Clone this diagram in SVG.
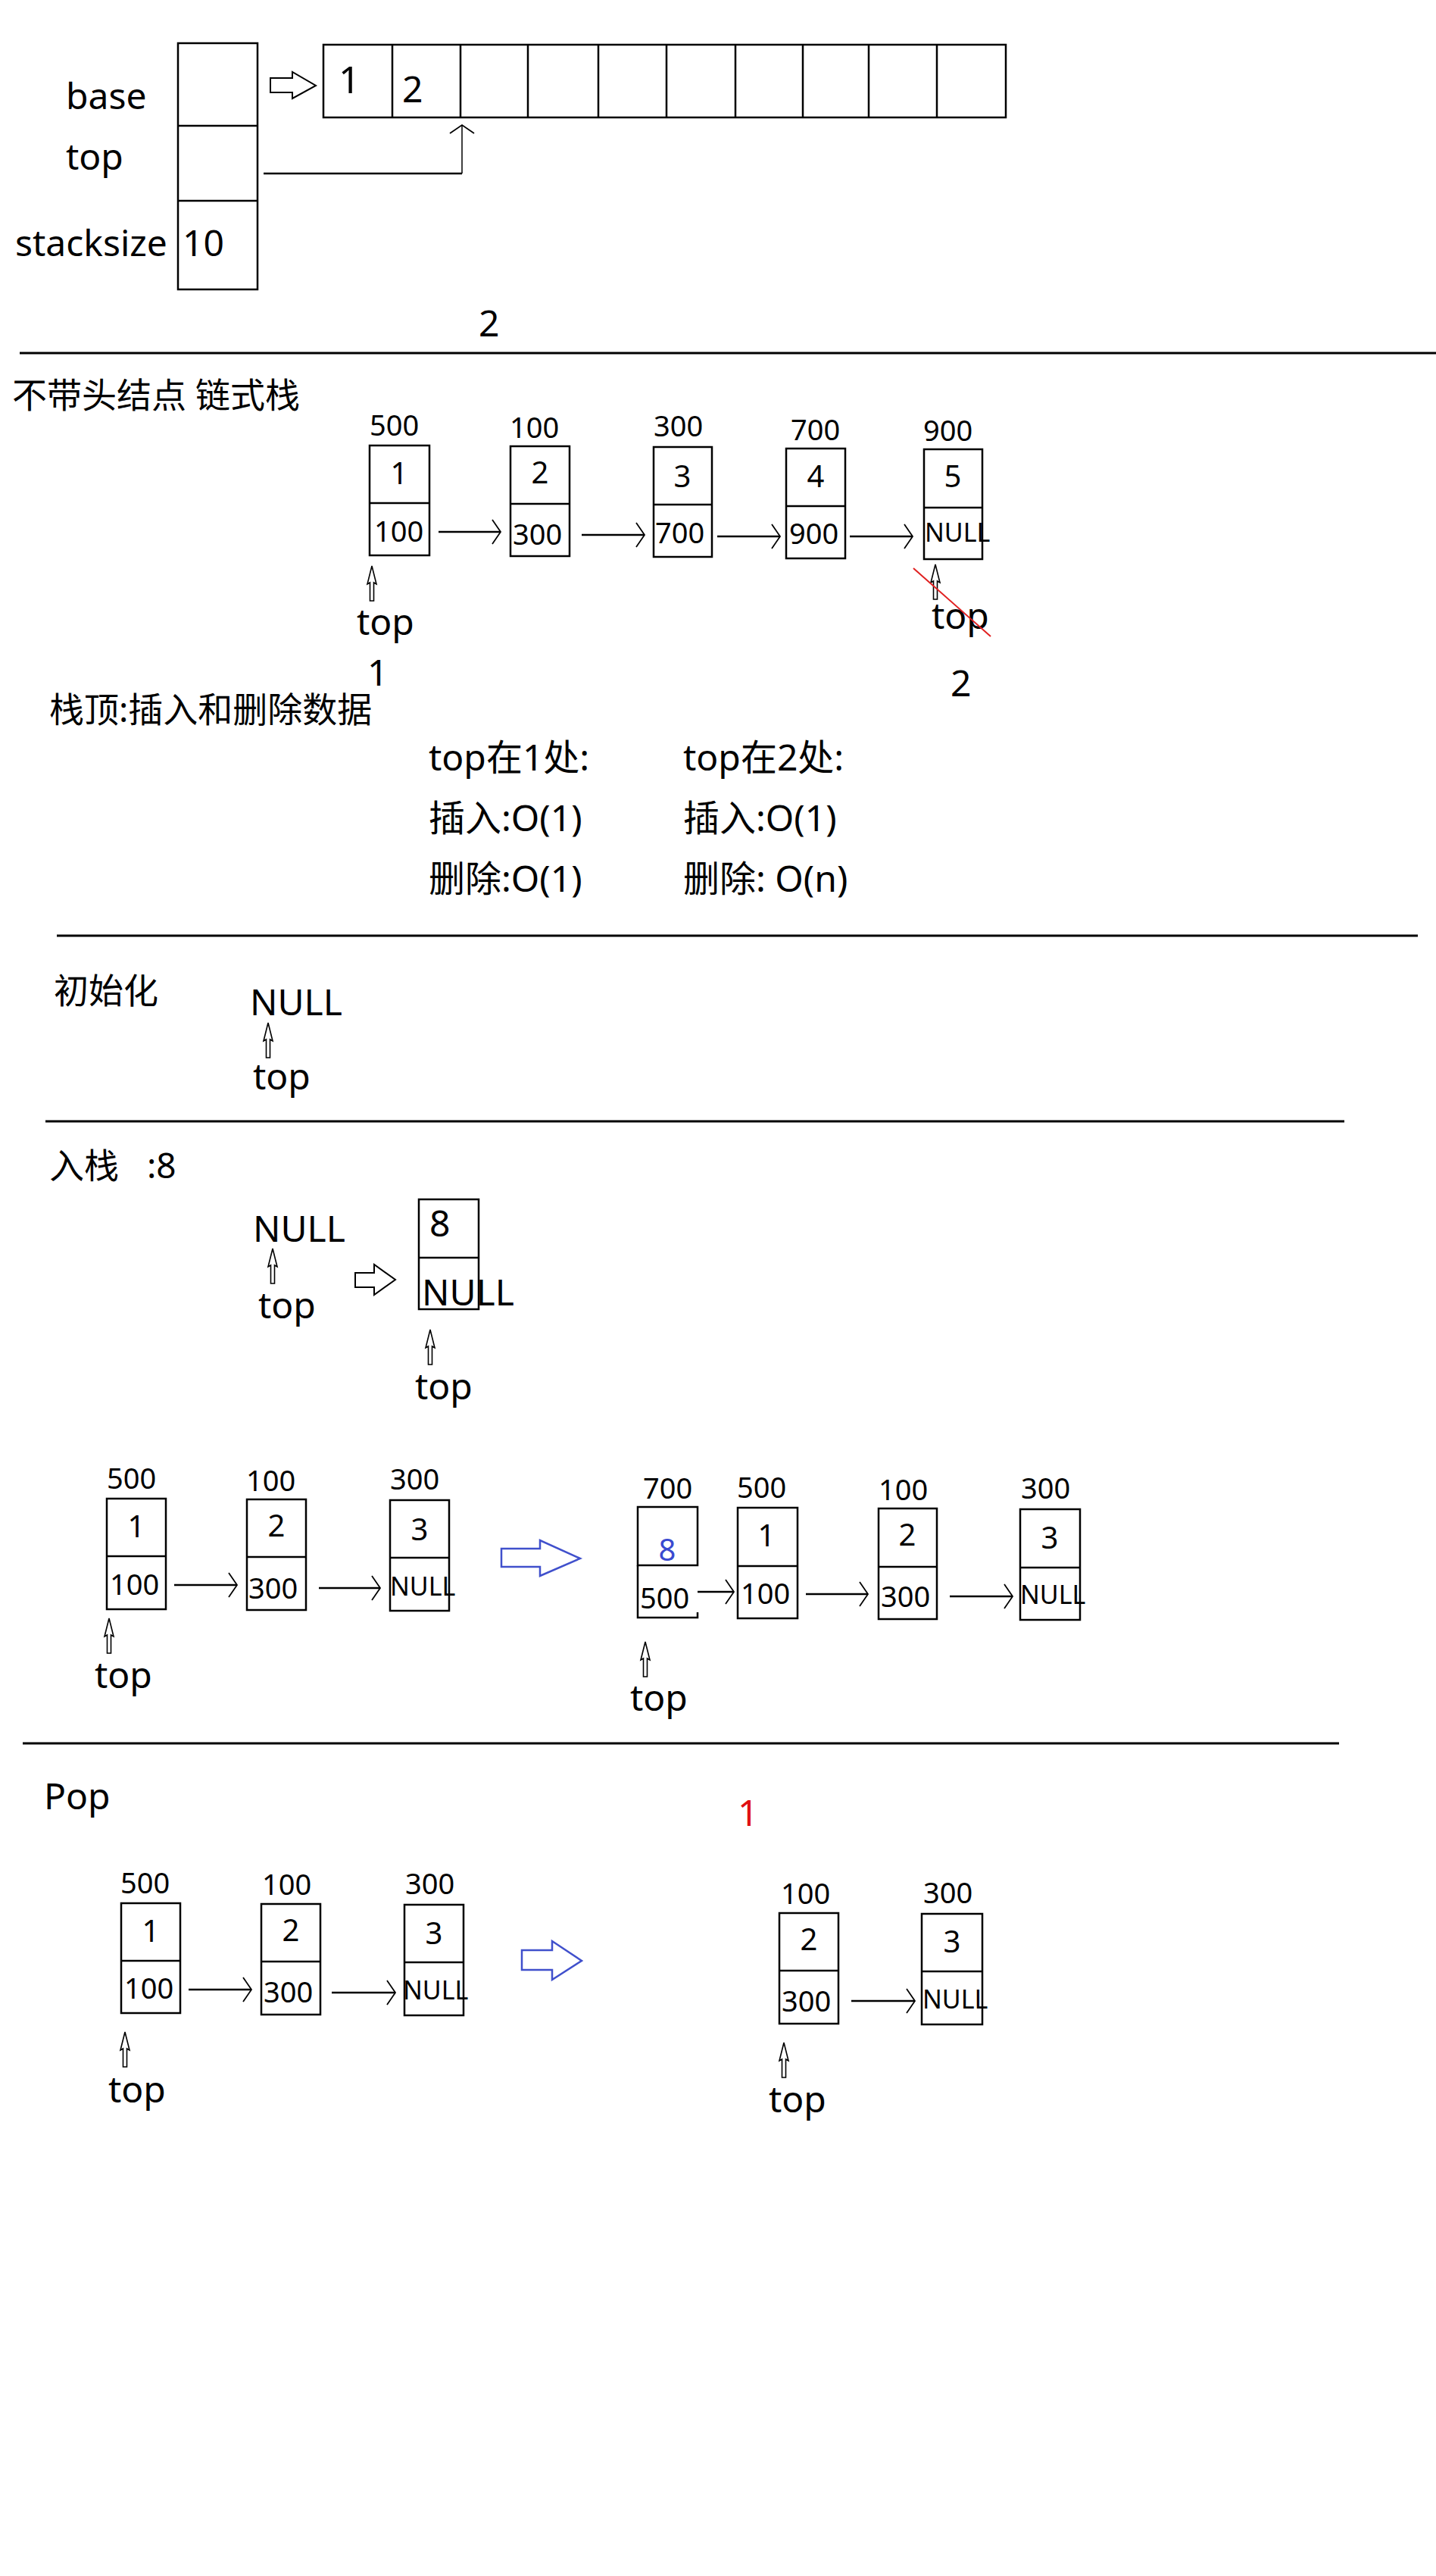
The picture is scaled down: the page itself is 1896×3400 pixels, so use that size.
<svg xmlns="http://www.w3.org/2000/svg" xmlns:xlink="http://www.w3.org/1999/xlink" width="1896" height="3400" viewBox="0 0 1896 3400">
<style>
text{font-family:"Noto Sans","Noto Sans CJK SC",sans-serif;fill:#000}
.l{font-size:48px}
.cj{font-size:46px}
.a{font-size:38px}
.v{font-size:40px;text-anchor:middle}
.n{font-size:34px}
.box{fill:none;stroke:#000;stroke-width:2.5}
.ln{stroke:#000;stroke-width:2.5;fill:none}
.sep{stroke:#000;stroke-width:3}
.con{stroke:#000;stroke-width:2.5;fill:none;marker-end:url(#ah)}
.hol{fill:#fff;stroke:#000;stroke-width:2}
.blu{fill:#fff;stroke:#4050cc;stroke-width:2.5}
</style>
<defs>
<marker id="ah" markerUnits="userSpaceOnUse" markerWidth="14" markerHeight="34" refX="12" refY="17" orient="auto" viewBox="0 0 14 34">
<path d="M1,1 L12,17 L1,33" fill="none" stroke="#000" stroke-width="1.8"/>
</marker>
<path id="up" d="M0,0 L6,24 L2.5,22 L2.5,46 L-2.5,46 L-2.5,22 L-6,24 Z" fill="#fff" stroke="#000" stroke-width="1.6"/>
</defs>
<rect width="1896" height="3400" fill="#fff"/>

<!-- Section 1: sequential stack -->
<g id="struct">
<rect class="box" x="235" y="57" width="105" height="325"/>
<line class="ln" x1="235" y1="166" x2="340" y2="166"/>
<line class="ln" x1="235" y1="265" x2="340" y2="265"/>
<text class="l" x="87" y="144">base</text>
<text class="l" x="87" y="224">top</text>
<text class="l" x="20" y="338">stacksize</text>
<text class="l" x="241" y="338">10</text>
</g>
<g id="array">
<rect class="box" x="427" y="59" width="901" height="96"/>
<path class="ln" stroke-width="2" d="M518,59V155M608,59V155M697,59V155M790,59V155M880,59V155M971,59V155M1060,59V155M1147,59V155M1237,59V155"/>
<text x="447" y="123" font-size="50">1</text>
<text class="l" x="531" y="135">2</text>
</g>
<text id="note2" class="l" x="632" y="444">2</text>

<!-- Section 2 nodes -->
<text id="title2" class="cj" x="16" y="538">不带头结点 链式栈</text>
<g id="n2a"><rect class="box" x="488" y="588" width="79" height="145"/><line class="ln" x1="488" y1="664" x2="567" y2="664"/>
<text class="a" x="488" y="575">500</text><text class="v" x="527" y="639">1</text><text class="a" x="494" y="715">100</text></g>
<g id="n2b"><rect class="box" x="674" y="589" width="78" height="145"/><line class="ln" x1="674" y1="665" x2="752" y2="665"/>
<text class="a" x="673" y="578">100</text><text class="v" x="713" y="638">2</text><text class="a" x="677" y="719">300</text></g>
<g id="n2c"><rect class="box" x="863" y="590" width="77" height="145"/><line class="ln" x1="863" y1="666" x2="940" y2="666"/>
<text class="a" x="863" y="576">300</text><text class="v" x="901" y="643">3</text><text class="a" x="865" y="717">700</text></g>
<g id="n2d"><rect class="box" x="1038" y="592" width="78" height="145"/><line class="ln" x1="1038" y1="668" x2="1116" y2="668"/>
<text class="a" x="1044" y="581">700</text><text class="v" x="1077" y="643">4</text><text class="a" x="1042" y="718">900</text></g>
<g id="n2e"><rect class="box" x="1220" y="593" width="77" height="145"/><line class="ln" x1="1220" y1="670" x2="1297" y2="670"/>
<text class="a" x="1219" y="582">900</text><text class="v" x="1258" y="643">5</text><text class="n" x="1221" y="715">NULL</text></g>
<g id="tops2">
<use xlink:href="#up" x="491" y="747"/>
<text class="l" x="471" y="838">top</text>
<use xlink:href="#up" x="1235" y="745"/>
<text class="l" x="1230" y="830">top</text>
<line x1="1206" y1="750" x2="1308" y2="840" stroke="#e02020" stroke-width="2"/>
<text class="l" x="485" y="905">1</text>
<text class="l" x="1255" y="919">2</text>
</g>
<text id="sub2" class="cj" x="65" y="953">栈顶:插入和删除数据</text>

<!-- Section 3 complexity -->
<g id="cplx">
<text class="l" x="566" y="1017">top在1处:</text>
<text class="l" x="902" y="1017">top在2处:</text>
<text class="l" x="566" y="1097">插入:O(1)</text>
<text class="l" x="902" y="1097">插入:O(1)</text>
<text class="l" x="566" y="1177">删除:O(1)</text>
<text class="l" x="902" y="1177">删除: O(n)</text>
</g>
<line class="sep" x1="75" y1="1235" x2="1872" y2="1235"/>
<g id="init">
<text class="cj" x="71" y="1324">初始化</text>
<text class="l" x="330" y="1340">NULL</text>
<use xlink:href="#up" x="354" y="1350"/>
<text class="l" x="334" y="1438">top</text>
</g>
<line class="sep" x1="60" y1="1480" x2="1775" y2="1480"/>

<!-- Section 4 push -->
<text id="push" class="cj" x="65" y="1555">入栈<tspan x="194">:8</tspan></text>
<g id="push0">
<text class="l" x="334" y="1639">NULL</text>
<use xlink:href="#up" x="360" y="1648"/>
<text class="l" x="341" y="1740">top</text>
</g>
<g id="n4">
<rect class="box" x="553" y="1583" width="79" height="145"/><line class="ln" x1="553" y1="1660" x2="632" y2="1660"/>
<text class="l" x="567" y="1632">8</text>
<text class="l" x="557" y="1723">NULL</text>
<use xlink:href="#up" x="568" y="1755"/>
<text class="l" x="548" y="1847">top</text>
</g>
<g id="p4l">
<rect class="box" x="141" y="1978" width="78" height="146"/><line class="ln" x1="141" y1="2054" x2="219" y2="2054"/>
<text class="a" x="141" y="1965">500</text><text class="v" x="180" y="2029">1</text><text class="a" x="145" y="2105">100</text>
</g>
<g id="p4m">
<rect class="box" x="326" y="1979" width="78" height="146"/><line class="ln" x1="326" y1="2055" x2="404" y2="2055"/>
<text class="a" x="325" y="1968">100</text><text class="v" x="365" y="2028">2</text><text class="a" x="328" y="2110">300</text>
</g>
<g id="p4r">
<rect class="box" x="515" y="1980" width="78" height="146"/><line class="ln" x1="515" y1="2056" x2="593" y2="2056"/>
<text class="a" x="515" y="1966">300</text><text class="v" x="554" y="2033">3</text><text class="n" x="515" y="2106">NULL</text>
</g>
<g id="p4top">
<use xlink:href="#up" x="144" y="2136"/>
<text class="l" x="125" y="2228">top</text>
</g>
<g id="q8">
<rect class="box" x="842" y="1989" width="79" height="77"/>
<path class="ln" d="M842,2066V2135H921V2128"/>
<text class="v" x="881" y="2060" font-size="48" style="fill:#3a4ad0">8</text>
<text class="a" x="849" y="1978">700</text>
<text class="a" x="845" y="2123">500</text>
</g>
<g id="q500">
<rect class="box" x="974" y="1990" width="79" height="146"/><line class="ln" x1="974" y1="2067" x2="1053" y2="2067"/>
<text class="a" x="973" y="1977">500</text><text class="v" x="1012" y="2041">1</text><text class="a" x="978" y="2117">100</text>
</g>
<g id="q100">
<rect class="box" x="1160" y="1991" width="77" height="146"/><line class="ln" x1="1160" y1="2068" x2="1237" y2="2068"/>
<text class="a" x="1160" y="1980">100</text><text class="v" x="1198" y="2040">2</text><text class="a" x="1163" y="2121">300</text>
</g>
<g id="q300">
<rect class="box" x="1347" y="1992" width="79" height="146"/><line class="ln" x1="1347" y1="2069" x2="1426" y2="2069"/>
<text class="a" x="1348" y="1978">300</text><text class="v" x="1386" y="2044">3</text><text class="n" x="1347" y="2117">NULL</text>
</g>
<g id="qtop">
<use xlink:href="#up" x="852" y="2167"/>
<text class="l" x="832" y="2258">top</text>
</g>
<line class="sep" x1="30" y1="2301" x2="1768" y2="2301"/>

<!-- Section 5 pop -->
<text id="pop" class="l" x="58" y="2388">Pop</text>
<text id="red1" class="l" x="974" y="2410" style="fill:#e01010">1</text>
<g id="r5a">
<rect class="box" x="160" y="2512" width="78" height="145"/><line class="ln" x1="160" y1="2588" x2="238" y2="2588"/>
<text class="a" x="159" y="2499">500</text><text class="v" x="199" y="2563">1</text><text class="a" x="164" y="2638">100</text>
</g>
<g id="r5b">
<rect class="box" x="345" y="2513" width="78" height="146"/><line class="ln" x1="345" y1="2589" x2="423" y2="2589"/>
<text class="a" x="346" y="2501">100</text><text class="v" x="384" y="2562">2</text><text class="a" x="348" y="2643">300</text>
</g>
<g id="r5c">
<rect class="box" x="534" y="2514" width="78" height="146"/><line class="ln" x1="534" y1="2590" x2="612" y2="2590"/>
<text class="a" x="535" y="2500">300</text><text class="v" x="573" y="2566">3</text><text class="n" x="532" y="2639">NULL</text>
</g>
<g id="r5top">
<use xlink:href="#up" x="165" y="2682"/>
<text class="l" x="143" y="2775">top</text>
</g>
<g id="s5a">
<rect class="box" x="1029" y="2525" width="78" height="146"/><line class="ln" x1="1029" y1="2601" x2="1107" y2="2601"/>
<text class="a" x="1031" y="2513">100</text><text class="v" x="1068" y="2574">2</text><text class="a" x="1032" y="2655">300</text>
</g>
<g id="s5b">
<rect class="box" x="1217" y="2526" width="80" height="146"/><line class="ln" x1="1217" y1="2602" x2="1297" y2="2602"/>
<text class="a" x="1219" y="2512">300</text><text class="v" x="1257" y="2577">3</text><text class="n" x="1218" y="2651">NULL</text>
</g>
<g id="s5top">
<use xlink:href="#up" x="1035" y="2696"/>
<text class="l" x="1015" y="2788">top</text>
</g>

<!-- connectors -->
<g id="connectors">
<path class="hol" d="M357,103 L386,103 L386,95 L417,113 L386,130 L386,122 L357,122 Z"/>
<polyline points="348,229 610,229" class="ln"/>
<line x1="610" y1="229" x2="610" y2="165" stroke="#000" stroke-width="1.5" marker-end="url(#ah)"/>
<line class="sep" x1="26" y1="466" x2="1896" y2="466"/>
<line class="con" x1="579" y1="702" x2="661" y2="702"/>
<line class="con" x1="768" y1="706" x2="851" y2="706"/>
<line class="con" x1="947" y1="708" x2="1030" y2="708"/>
<line class="con" x1="1122" y1="708" x2="1205" y2="708"/>
<path class="hol" d="M469,1680 L494,1680 L494,1669 L522,1689 L494,1709 L494,1699 L469,1699 Z"/>
<line class="con" x1="230" y1="2092" x2="313" y2="2092"/>
<line class="con" x1="421" y1="2096" x2="502" y2="2096"/>
<path class="blu" d="M662,2044 L713,2044 L713,2033 L766,2057 L713,2080 L713,2068 L662,2068 Z"/>
<line class="con" x1="921" y1="2101" x2="969" y2="2101"/>
<line class="con" x1="1064" y1="2104" x2="1146" y2="2104"/>
<line class="con" x1="1254" y1="2107" x2="1337" y2="2107"/>
<line class="con" x1="249" y1="2626" x2="332" y2="2626"/>
<line class="con" x1="438" y1="2630" x2="522" y2="2630"/>
<path class="blu" d="M689,2574 L729,2574 L729,2562 L768,2588 L729,2613 L729,2600 L689,2600 Z"/>
<line class="con" x1="1124" y1="2641" x2="1208" y2="2641"/>
</g>
</svg>
